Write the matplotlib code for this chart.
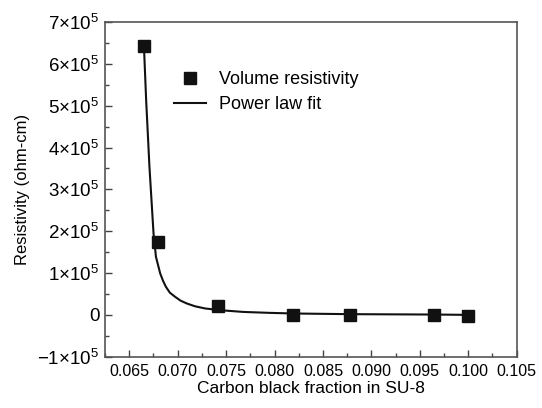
import matplotlib
matplotlib.use("Agg")
import matplotlib.pyplot as plt
from matplotlib.ticker import MultipleLocator, FuncFormatter

plt.rcParams['font.family'] = ['Liberation Sans', 'DejaVu Sans']
plt.rcParams['mathtext.fontset'] = 'custom'
plt.rcParams['mathtext.rm'] = 'Liberation Sans'
plt.rcParams['mathtext.it'] = 'Liberation Sans:italic'

# measured volume resistivity (ohm-cm)
cb_fraction = [0.0665, 0.0680, 0.0742, 0.0819, 0.0878, 0.0965, 0.1000]
resistivity = [6.43e5, 1.74e5, 2.15e4, 600, 200, 100, -2500]

# power law fit curve
fit_x = [0.06652, 0.06675, 0.06709, 0.06751, 0.06776, 0.0682, 0.0685,
         0.06879, 0.0692, 0.06975, 0.0703, 0.07095, 0.0718, 0.07284,
         0.0745, 0.0768, 0.0795, 0.082, 0.0878, 0.0965, 0.1000]
fit_y = [6.43e5, 5.13e5, 3.54e5, 1.95e5, 1.39e5, 9.9e4, 8.1e4,
         6.7e4, 5.3e4, 4.3e4, 3.4e4, 2.72e4, 2.05e4, 1.53e4,
         1.1e4, 7.0e3, 4.8e3, 3.3e3, 1.7e3, 800, 0]


def sci_fmt(v, pos):
    n = int(round(v / 1e5))
    if n == 0:
        return "0"
    sign = "\u2212" if n < 0 else ""
    return sign + r"$%d{\times}10^{5}$" % abs(n)


fig = plt.figure(figsize=(5.42, 4.08), dpi=100)
ax = fig.add_axes([0.1937, 0.1257, 0.7596, 0.8204])

ax.plot(cb_fraction, resistivity, 's', color='#111111', markersize=8.5,
        label='Volume resistivity')
ax.plot(fit_x, fit_y, '-', color='#111111', linewidth=1.5,
        label='Power law fit')

ax.set_xlim(0.0625, 0.105)
ax.set_ylim(-1e5, 7e5)
ax.xaxis.set_major_locator(MultipleLocator(0.005))
ax.xaxis.set_minor_locator(MultipleLocator(0.0025))
ax.yaxis.set_major_locator(MultipleLocator(1e5))
ax.yaxis.set_minor_locator(MultipleLocator(5e4))
ax.xaxis.set_major_formatter(FuncFormatter(lambda v, p: "%.3f" % v))
ax.yaxis.set_major_formatter(FuncFormatter(sci_fmt))

ax.tick_params(which='both', direction='in', top=False, right=False,
               color='#444444', width=1)
ax.tick_params(axis='x', labelsize=11.5, pad=5)
ax.tick_params(axis='y', labelsize=13.5, pad=4)
ax.tick_params(which='major', length=5)
ax.tick_params(which='minor', length=3)
for s in ax.spines.values():
    s.set_color('#555555')
    s.set_linewidth(1.2)

ax.set_xlabel('Carbon black fraction in SU-8', fontsize=12.5, labelpad=2)
ax.set_ylabel('Resistivity (ohm-cm)', fontsize=12, labelpad=5)

ax.legend(loc='upper left', bbox_to_anchor=(0.15, 0.875), frameon=False,
          fontsize=13, borderaxespad=0, handlelength=1.8,
          handletextpad=0.7, labelspacing=0.45)

fig.savefig('out.png', dpi=100)
